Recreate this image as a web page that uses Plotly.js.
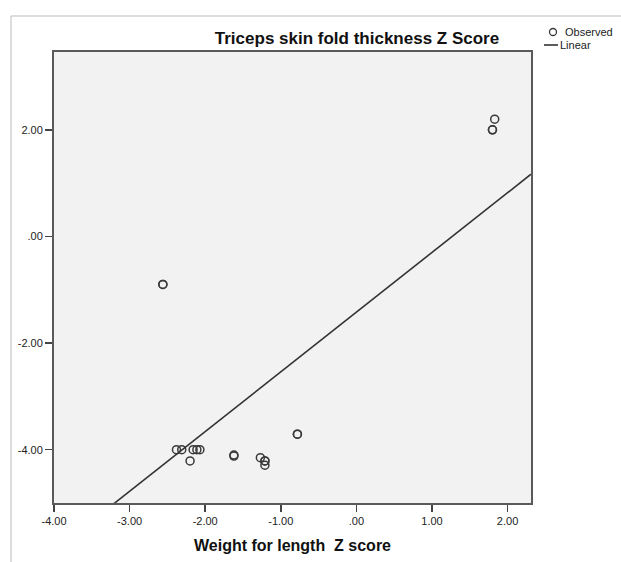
<!DOCTYPE html>
<html><head><meta charset="utf-8">
<script src="https://cdn.plot.ly/plotly-3.0.1.min.js"></script>
<style>html,body{margin:0;padding:0;background:#fff}#chart{width:621px;height:562px}</style>
</head><body><div id="chart"></div>
<script>
// Observed points (duplicates = overlapping cases)
const obsX = [1.83, 1.80, 1.80, -2.56, -2.56, -2.38, -2.31, -2.20, -2.16, -2.11, -2.07, -1.62, -1.62, -1.27, -1.21, -1.21, -1.21, -0.78, -0.78];
const obsY = [2.20, 2.00, 2.00, -0.90, -0.90, -4.00, -4.00, -4.21, -4.00, -4.00, -4.00, -4.10, -4.12, -4.15, -4.21, -4.21, -4.29, -3.71, -3.71];
// Linear fit
const fitIntercept = -1.42;
const fitSlope = 1.12;
const fitX = [-4.0, 2.31];
const fitY = fitX.map(x => fitIntercept + fitSlope * x);
// Ticks
const xTickVals = [-4, -3, -2, -1, 0, 1, 2];
const xTickText = ['-4.00', '-3.00', '-2.00', '-1.00', '.00', '1.00', '2.00'];
const yTickVals = [2, 0, -2, -4];
const yTickText = ['2.00', '.00', '-2.00', '-4.00'];
const legendLabels = ['Observed', 'Linear'];

const W = 621, H = 562;
const M = {l: 54, r: W - 531, t: 52, b: H - 503};
const pw = W - M.l - M.r, ph = H - M.t - M.b;
const px = v => (v - M.l) / pw;
const py = v => (H - M.b - v) / ph;

const font = 'Liberation Sans, Arial, sans-serif';
const dark = '#333333';

const traces = [
  {x: obsX, y: obsY, type: 'scatter', mode: 'markers', name: legendLabels[0],
   marker: {symbol: 'circle-open', size: 8, color: '#3a3a3a', line: {width: 1.5, color: '#3a3a3a'}},
   cliponaxis: false, showlegend: false},
  {x: fitX, y: fitY, type: 'scatter', mode: 'lines', name: legendLabels[1],
   line: {color: dark, width: 1.6}, showlegend: false}
];

const axisCommon = {
  showgrid: false, zeroline: false, showline: true, mirror: true,
  linecolor: '#5a5a5a', linewidth: 2, ticks: 'outside', ticklen: 7,
  tickcolor: '#444', tickwidth: 1.5, tickfont: {family: font, size: 11, color: '#222'}
};

const layout = {
  width: W, height: H, margin: M,
  paper_bgcolor: '#ffffff', plot_bgcolor: '#f2f2f2',
  showlegend: false,
  title: {text: 'Triceps skin fold thickness Z Score', x: 357 / W, xref: 'container', xanchor: 'center',
          y: 1 - 38 / H, yref: 'container', yanchor: 'middle',
          font: {family: font, size: 17, color: '#111', weight: 'bold'}},
  xaxis: Object.assign({}, axisCommon, {range: [-4.0, 2.31], tickvals: xTickVals, ticktext: xTickText,
          title: {text: 'Weight for length  Z score', standoff: 14, font: {family: font, size: 16, color: '#111', weight: 'bold'}}}),
  yaxis: Object.assign({}, axisCommon, {range: [-5.0, 3.46], tickvals: yTickVals, ticktext: yTickText}),
  shapes: [
    {type: 'line', xref: 'paper', yref: 'paper', x0: px(11), x1: px(11), y0: py(16), y1: py(H + 5), line: {color: '#bbbbbb', width: 1}},
    {type: 'line', xref: 'paper', yref: 'paper', x0: px(11), x1: px(W + 5), y0: py(16), y1: py(16), line: {color: '#bbbbbb', width: 1}},
    {type: 'circle', xref: 'paper', yref: 'paper', x0: px(549.5), x1: px(556.5), y0: py(28.5), y1: py(35.5), line: {color: '#3a3a3a', width: 1.3}},
    {type: 'line', xref: 'paper', yref: 'paper', x0: px(544), x1: px(558), y0: py(45), y1: py(45), line: {color: dark, width: 1.6}}
  ],
  annotations: [
    {text: legendLabels[0], xref: 'paper', yref: 'paper', x: px(563), y: py(32), xanchor: 'left', yanchor: 'middle', showarrow: false, font: {family: font, size: 11, color: '#222'}},
    {text: legendLabels[1], xref: 'paper', yref: 'paper', x: px(558), y: py(45), xanchor: 'left', yanchor: 'middle', showarrow: false, font: {family: font, size: 11, color: '#222'}}
  ]
};

Plotly.newPlot('chart', traces, layout, {displayModeBar: false, staticPlot: true});
</script></body></html>
